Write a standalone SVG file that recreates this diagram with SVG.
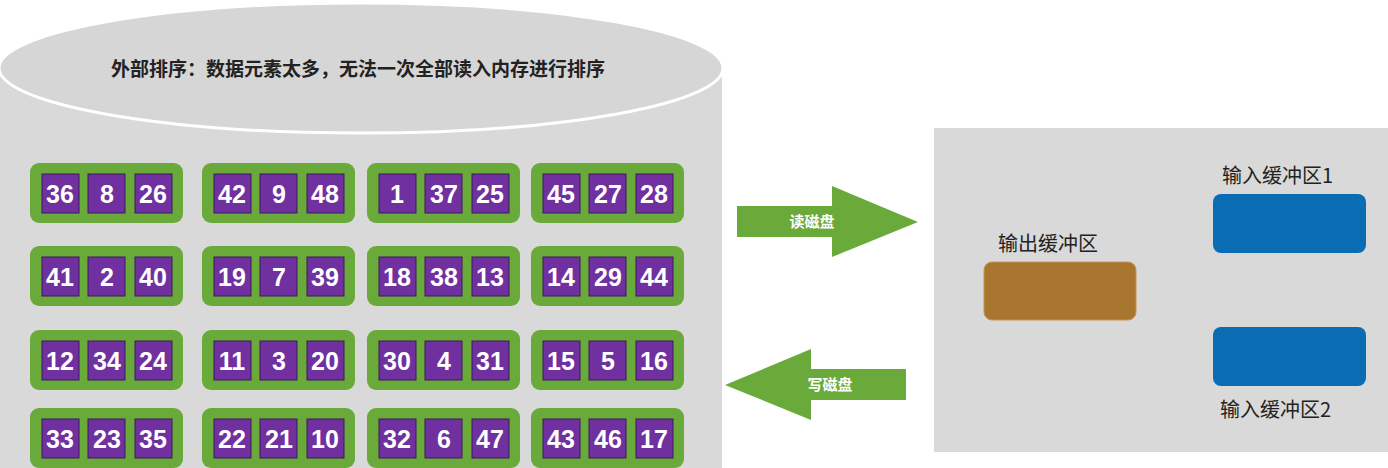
<svg xmlns="http://www.w3.org/2000/svg" width="1388" height="468" viewBox="0 0 1388 468">
<style>
.g{fill:#6aaa3a;}
.c{fill:#7030a0;stroke:#3a1a5a;stroke-width:1;}
.n{font-family:"Liberation Sans",Arial,sans-serif;font-size:25px;font-weight:bold;fill:#fff;text-anchor:middle;}
.t{font-family:"Noto Sans CJK SC",sans-serif;fill:#222;}
.w{font-family:"Noto Sans CJK SC",sans-serif;fill:#fff;font-size:15px;font-weight:bold;text-anchor:middle;}
</style>
<rect width="1388" height="468" fill="#fff"/>
<g id="disk">
<rect x="0" y="68" width="722" height="400" fill="#d9d9d9"/>
<ellipse cx="361" cy="68" rx="362" ry="65" fill="#d6d6d6" stroke="#fff" stroke-width="3"/>
<text x="358" y="76" class="t" font-size="19" font-weight="bold" text-anchor="middle">外部排序：数据元素太多，无法一次全部读入内存进行排序</text>
</g>
<g id="blocks">
<defs>
<g id="blk"><rect class="g" x="0" y="0" width="153" height="60" rx="9"/>
<rect class="c" x="12" y="11" width="37" height="39"/><rect class="c" x="58" y="11" width="37" height="39"/><rect class="c" x="105" y="11" width="37" height="39"/></g>
</defs>
<use href="#blk" x="30" y="163"/><use href="#blk" x="202" y="163"/><use href="#blk" x="367" y="163"/><use href="#blk" x="531" y="163"/>
<use href="#blk" x="30" y="246"/><use href="#blk" x="202" y="246"/><use href="#blk" x="367" y="246"/><use href="#blk" x="531" y="246"/>
<use href="#blk" x="30" y="330"/><use href="#blk" x="202" y="330"/><use href="#blk" x="367" y="330"/><use href="#blk" x="531" y="330"/>
<use href="#blk" x="30" y="408"/><use href="#blk" x="202" y="408"/><use href="#blk" x="367" y="408"/><use href="#blk" x="531" y="408"/>
<g class="n">
<text x="60" y="203">36</text><text x="107" y="203">8</text><text x="153" y="203">26</text>
<text x="232" y="203">42</text><text x="279" y="203">9</text><text x="325" y="203">48</text>
<text x="397" y="203">1</text><text x="444" y="203">37</text><text x="490" y="203">25</text>
<text x="561" y="203">45</text><text x="608" y="203">27</text><text x="654" y="203">28</text>
<text x="60" y="286">41</text><text x="107" y="286">2</text><text x="153" y="286">40</text>
<text x="232" y="286">19</text><text x="279" y="286">7</text><text x="325" y="286">39</text>
<text x="397" y="286">18</text><text x="444" y="286">38</text><text x="490" y="286">13</text>
<text x="561" y="286">14</text><text x="608" y="286">29</text><text x="654" y="286">44</text>
<text x="60" y="370">12</text><text x="107" y="370">34</text><text x="153" y="370">24</text>
<text x="232" y="370">11</text><text x="279" y="370">3</text><text x="325" y="370">20</text>
<text x="397" y="370">30</text><text x="444" y="370">4</text><text x="490" y="370">31</text>
<text x="561" y="370">15</text><text x="608" y="370">5</text><text x="654" y="370">16</text>
<text x="60" y="448">33</text><text x="107" y="448">23</text><text x="153" y="448">35</text>
<text x="232" y="448">22</text><text x="279" y="448">21</text><text x="325" y="448">10</text>
<text x="397" y="448">32</text><text x="444" y="448">6</text><text x="490" y="448">47</text>
<text x="561" y="448">43</text><text x="608" y="448">46</text><text x="654" y="448">17</text>
</g>
</g>
<g id="connectors">
<polygon class="g" points="737,206 832,206 832,186 918,222 832,257 832,237 737,237"/>
<text class="w" x="812" y="227">读磁盘</text>
<polygon class="g" points="906,369 811,369 811,349 725,385 811,420 811,400 906,400"/>
<text class="w" x="830" y="390">写磁盘</text>
</g>
<g id="memory">
<rect x="934" y="128" width="454" height="324" fill="#d9d9d9"/>
</g>
<g id="out">
<rect x="984" y="262" width="152" height="58" rx="8" fill="#a8762e" stroke="#c89450"/>
<text class="t" x="998" y="251" font-size="20">输出缓冲区</text>
</g>
<g id="in1">
<rect x="1213" y="194" width="153" height="59" rx="8" fill="#0a6db4"/>
<text class="t" x="1222" y="183" font-size="20">输入缓冲区1</text>
</g>
<g id="in2">
<rect x="1213" y="327" width="153" height="59" rx="8" fill="#0a6db4"/>
<text class="t" x="1220" y="417" font-size="20">输入缓冲区2</text>
</g>
</svg>
